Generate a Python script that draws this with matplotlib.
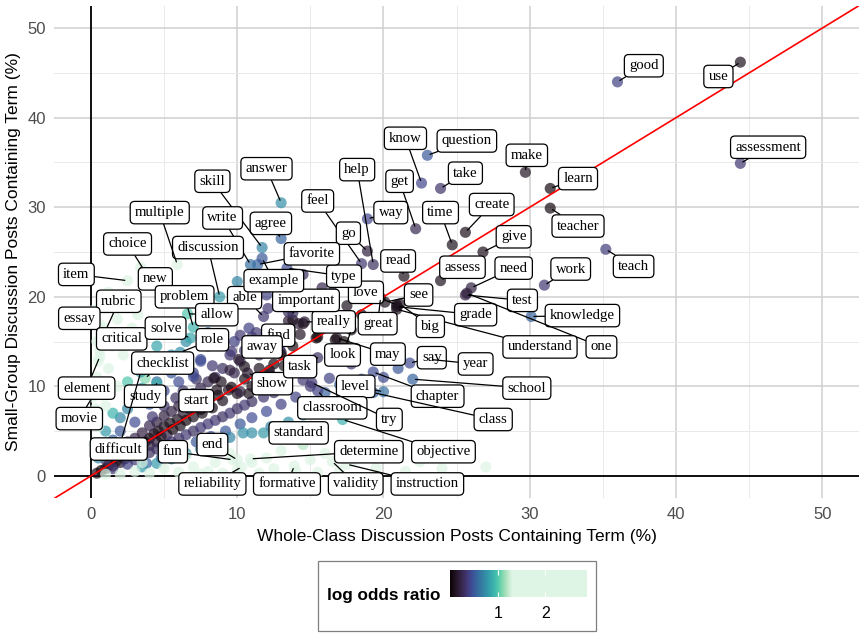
import numpy as np
import matplotlib
matplotlib.use("Agg")
import matplotlib.pyplot as plt
from matplotlib.colors import ListedColormap, Normalize
from matplotlib.patches import Rectangle
import seaborn as sns

plt.rcParams['font.family'] = ['Liberation Sans', 'DejaVu Sans']

# labelled terms: % of whole-class posts, % of small-group posts, |log odds ratio|
words = ['use', 'good', 'assessment', 'make', 'learn', 'teacher', 'teach', 'work',
         'knowledge', 'question', 'know', 'take', 'get', 'way', 'help', 'feel',
         'go', 'time', 'create', 'give', 'assess', 'read', 'love', 'see',
         'need', 'test', 'grade', 'one', 'understand', 'big', 'great', 'really',
         'important', 'able', 'find', 'away', 'type', 'favorite', 'example', 'agree',
         'answer', 'skill', 'write', 'discussion', 'multiple', 'choice', 'new', 'item',
         'rubric', 'essay', 'critical', 'problem', 'solve', 'allow', 'role', 'checklist',
         'element', 'movie', 'study', 'difficult', 'start', 'show', 'task', 'look',
         'may', 'say', 'year', 'school', 'chapter', 'class', 'level', 'classroom',
         'try', 'objective', 'standard', 'determine', 'fun', 'end', 'reliability', 'formative',
         'validity', 'instruction']
whole_pct = [44.4, 36.0, 44.4, 29.7, 31.4, 31.4, 35.2, 31.0,
             30.1, 23.0, 22.6, 23.9, 22.2, 18.9, 19.3, 18.5,
             18.9, 24.7, 25.6, 26.8, 23.9, 21.4, 20.9, 20.1,
             26.0, 25.6, 20.9, 25.7, 20.9, 21.1, 19.8, 14.6,
             13.8, 11.8, 13.6, 12.4, 13.4, 11.4, 11.7, 13.0,
             13.0, 11.7, 10.9, 8.8, 5.9, 4.2, 3.4, 2.5,
             0.8, 0.6, 0.4, 7.0, 6.8, 6.6, 6.1, 3.7,
             0.6, 0.1, 4.5, 3.4, 7.5, 10.7, 15.5, 17.8,
             16.8, 21.8, 23.2, 22.0, 19.3, 19.3, 20.0, 15.5,
             15.1, 17.2, 12.9, 10.9, 9.7, 10.0, 10.3, 13.9,
             16.5, 17.5]
small_pct = [46.2, 44.0, 34.9, 33.9, 32.1, 29.9, 25.3, 21.3,
             17.8, 35.8, 32.7, 32.1, 27.6, 28.7, 23.6, 23.7,
             25.1, 25.8, 27.2, 25.0, 21.8, 22.3, 19.1, 19.4,
             21.0, 20.2, 18.9, 20.4, 18.6, 19.2, 19.9, 17.2,
             18.2, 17.8, 16.3, 13.8, 23.2, 23.6, 24.3, 26.5,
             30.5, 25.5, 23.6, 20.0, 23.6, 21.5, 23.3, 21.8,
             15.5, 16.9, 15.0, 16.6, 15.4, 18.1, 13.8, 10.9,
             13.3, 8.8, 10.3, 11.6, 7.4, 11.5, 13.2, 16.3,
             15.4, 12.6, 13.0, 10.8, 11.6, 9.3, 9.4, 9.5,
             10.4, 6.3, 5.1, 1.9, 1.8, 1.8, 1.0, 1.1,
             1.6, 1.3]
log_odds = [0.10, 0.40, 0.35, 0.12, 0.05, 0.05, 0.38, 0.35,
            0.55, 0.50, 0.42, 0.32, 0.25, 0.42, 0.30, 0.35,
            0.20, 0.10, 0.08, 0.08, 0.10, 0.08, 0.10, 0.10,
            0.20, 0.20, 0.10, 0.20, 0.10, 0.10, 0.08, 0.15,
            0.30, 0.35, 0.20, 0.15, 0.45, 0.55, 0.50, 0.55,
            0.75, 0.70, 0.60, 0.80, 1.40, 1.40, 1.40, 1.50,
            1.60, 1.50, 1.50, 0.90, 0.85, 1.00, 0.75, 1.10,
            1.60, 1.60, 0.90, 0.80, 0.05, 0.15, 0.30, 0.10,
            0.10, 0.45, 0.30, 0.55, 0.45, 0.55, 0.60, 0.40,
            0.35, 0.90, 0.80, 1.60, 1.50, 1.50, 1.70, 1.70,
            1.60, 1.60]

# remaining (unlabelled) terms
other_whole = [0.4, 0.7, 1.0, 1.2, 1.5, 1.7, 2.0, 2.0, 2.3, 2.5, 2.7, 3.0, 3.0, 3.3, 3.5, 3.7,
               4.0, 4.0, 4.3, 4.5, 4.6, 4.8, 5.0, 5.2, 5.4, 5.6, 5.9, 6.1, 6.3, 6.5, 6.8, 7.0,
               7.3, 7.6, 8.0, 8.3, 8.7, 9.0, 9.6, 10.0, 10.5, 11.0, 11.5, 12.5, 13.0, 13.8, 14.3, 15.5,
               16.5, 13.5, 14.2,
               1.0, 1.5, 2.0, 2.5, 3.0, 3.5, 4.0, 4.5, 5.0, 5.5, 6.0, 6.5, 7.0, 7.5, 8.0, 4.2,
               5.0, 5.8, 6.3, 7.2, 8.5, 9.0, 9.8, 10.2, 8.3, 9.5, 10.5, 11.0, 9.8, 10.8, 12.0, 12.8,
               11.5, 12.2, 13.2, 12.6,
               1.5, 2.5, 3.0, 3.5, 4.0, 4.5, 5.0, 5.5, 6.0, 6.5, 7.0, 7.5, 8.0, 8.5, 9.0, 9.5,
               10.0, 10.5, 11.0, 11.8, 12.5, 6.2, 7.2, 8.2, 9.2, 10.2, 11.0, 12.0, 13.0, 14.0, 4.8, 5.8,
               3.8,
               10.4, 11.0, 11.8, 12.3, 9.5, 8.5, 7.5, 6.5, 5.5, 4.5, 3.5, 13.5, 14.5, 15.0, 16.0, 17.0,
               18.5, 16.5,
               0.5, 1.0, 1.5, 1.0, 2.0, 2.0, 2.5, 3.0, 3.0, 3.5, 4.0, 4.5, 5.0, 5.5, 6.0, 6.5,
               7.0, 5.0, 5.5, 4.5, 7.5, 8.0, 6.5, 1.5, 2.5, 3.5,
               0.2, 0.5, 0.3, 0.8, 0.4, 1.2, 0.6, 1.5, 0.9, 1.8, 0.2, 2.8, 2.2, 1.8, 2.6, 1.2,
               3.2, 0.5, 1.0, 2.0,
               2.0, 3.0, 4.0, 5.0, 6.0, 7.0, 8.0, 8.5, 9.0, 10.0, 11.0, 11.5, 12.0, 12.5, 13.0, 14.0,
               15.0, 15.5, 16.0, 17.0, 18.0, 18.5, 19.5, 20.5, 21.5, 22.5, 24.0, 25.5, 27.0, 6.5, 3.5, 9.5,
               14.5, 7.5, 1.0,
               11.3, 10.2, 9.6, 10.1, 10.5, 9.5, 7.5, 7.0, 8.4, 8.9, 9.4, 10.2, 10.8, 8.6, 12.9, 13.0,
               12.2, 14.5, 16.3, 15.0, 13.8, 14.5, 15.4, 16.7, 17.3, 13.5, 12.1,
               18.5, 20.0, 17.8, 21.0, 17.5, 18.5, 19.2, 16.5, 17.0,
               10.0, 11.0, 12.0, 13.5, 14.5, 15.8, 9.5, 8.0, 7.5]
other_small = [0.3, 0.6, 0.8, 1.2, 1.1, 1.6, 1.5, 2.2, 1.9, 2.6, 2.2, 3.0, 2.5, 3.5, 2.9, 3.8,
               4.2, 3.4, 4.7, 3.8, 5.0, 4.4, 5.5, 4.6, 5.9, 5.2, 6.3, 5.6, 7.0, 6.2, 7.4, 6.6,
               8.0, 7.0, 8.3, 7.6, 9.0, 8.4, 9.9, 9.2, 10.8, 10.0, 12.0, 12.5, 13.8, 14.5, 15.8, 15.5,
               16.9, 17.3, 17.0,
               1.8, 2.5, 3.2, 3.8, 4.2, 4.8, 5.6, 6.0, 6.7, 7.2, 7.8, 8.5, 9.2, 9.8, 10.5, 6.6,
               7.8, 8.7, 9.5, 10.8, 11.0, 12.0, 11.5, 12.8, 12.3, 13.5, 14.0, 15.5, 15.0, 16.5, 16.0, 14.8,
               13.5, 11.4, 12.3, 10.4,
               0.8, 1.3, 1.8, 2.2, 2.6, 3.0, 3.4, 3.8, 4.2, 4.6, 5.0, 5.4, 5.8, 6.2, 6.6, 7.0,
               7.5, 7.9, 8.3, 8.8, 9.3, 3.2, 3.8, 4.4, 5.0, 5.8, 6.5, 7.2, 8.0, 8.8, 2.0, 2.6,
               1.4,
               4.8, 4.8, 4.8, 5.5, 4.3, 3.6, 3.0, 2.5, 1.9, 1.4, 1.0, 6.0, 6.8, 8.3, 9.3, 10.2,
               10.8, 7.8,
               2.0, 3.0, 4.0, 5.0, 5.0, 6.5, 7.5, 6.0, 8.5, 9.8, 8.0, 10.5, 9.5, 11.5, 10.5, 12.5,
               11.5, 12.5, 13.5, 14.5, 13.0, 14.5, 15.0, 7.0, 10.5, 12.5,
               3.5, 5.5, 7.5, 9.0, 11.0, 12.0, 14.0, 14.5, 16.5, 17.5, 18.5, 16.5, 13.5, 10.0, 19.5, 20.5,
               18.0, 12.8, 7.8, 3.5,
               0.2, 0.5, 0.3, 0.8, 0.4, 1.0, 0.5, 1.5, 0.3, 0.7, 1.5, 0.3, 2.0, 0.8, 2.8, 0.5,
               1.8, 0.4, 2.5, 0.6, 1.8, 3.2, 0.9, 2.2, 0.5, 1.6, 0.8, 2.0, 1.0, 2.2, 1.5, 2.5,
               3.5, 0.2, 0.2,
               16.0, 15.7, 13.9, 13.0, 12.2, 11.8, 12.8, 11.1, 10.9, 10.5, 9.6, 9.4, 9.2, 9.6, 14.1, 13.5,
               11.8, 10.7, 10.9, 10.0, 17.4, 17.0, 15.4, 15.2, 15.0, 18.3, 18.7,
               9.0, 11.0, 12.5, 12.0, 19.0, 18.0, 20.3, 20.5, 17.5,
               21.7, 22.2, 20.2, 21.0, 22.5, 21.0, 18.0, 16.0, 17.5]
other_lor = [0.10, 0.05, 0.10, 0.05, 0.15, 0.05, 0.15, 0.05, 0.10, 0.05, 0.15, 0.02, 0.15, 0.08, 0.20, 0.05,
             0.05, 0.20, 0.10, 0.20, 0.10, 0.05, 0.10, 0.20, 0.10, 0.05, 0.10, 0.10, 0.15, 0.05, 0.10, 0.10,
             0.15, 0.10, 0.05, 0.10, 0.08, 0.10, 0.05, 0.10, 0.08, 0.10, 0.10, 0.05, 0.10, 0.08, 0.12, 0.05,
             0.05, 0.15, 0.20,
             0.30, 0.30, 0.30, 0.25, 0.25, 0.20, 0.25, 0.20, 0.20, 0.20, 0.20, 0.20, 0.25, 0.25, 0.25, 0.35,
             0.30, 0.30, 0.30, 0.30, 0.30, 0.30, 0.25, 0.30, 0.35, 0.35, 0.35, 0.35, 0.40, 0.40, 0.30, 0.20,
             0.25, 0.15, 0.10, 0.20,
             0.35, 0.40, 0.35, 0.35, 0.30, 0.30, 0.35, 0.35, 0.30, 0.35, 0.30, 0.35, 0.35, 0.35, 0.30, 0.35,
             0.30, 0.35, 0.30, 0.35, 0.30, 0.45, 0.50, 0.50, 0.50, 0.50, 0.45, 0.45, 0.40, 0.40, 0.50, 0.55,
             0.55,
             0.75, 0.75, 0.80, 0.70, 0.70, 0.70, 0.70, 0.75, 0.75, 0.80, 0.80, 0.75, 0.70, 0.60, 0.55, 0.55,
             0.50, 0.65,
             0.70, 0.60, 0.55, 0.80, 0.50, 0.70, 0.70, 0.45, 0.70, 0.80, 0.50, 0.55, 0.45, 0.50, 0.45, 0.50,
             0.40, 0.65, 0.70, 0.85, 0.45, 0.50, 0.75, 0.90, 1.00, 1.00,
             1.50, 1.60, 1.80, 1.70, 2.00, 1.60, 2.00, 1.50, 2.10, 1.50, 2.30, 1.40, 1.40, 1.40, 1.40, 2.00,
             1.30, 2.20, 1.40, 1.30,
             1.60, 1.50, 1.80, 1.50, 1.90, 1.50, 2.00, 1.40, 2.20, 2.00, 1.60, 2.40, 1.40, 2.00, 1.30, 2.30,
             1.60, 2.40, 1.40, 2.30, 1.70, 1.30, 2.20, 1.60, 2.50, 1.90, 2.40, 1.80, 2.30, 1.30, 1.30, 1.30,
             1.20, 2.10, 1.30,
             0.35, 0.35, 0.35, 0.15, 0.10, 0.20, 0.45, 0.45, 0.10, 0.10, 0.10, 0.20, 0.10, 0.10, 0.35, 0.10,
             0.10, 0.35, 0.40, 0.35, 0.10, 0.10, 0.05, 0.05, 0.05, 0.30, 0.35,
             0.50, 0.45, 0.35, 0.50, 0.10, 0.10, 0.05, 0.20, 0.08,
             0.70, 0.55, 0.40, 0.35, 0.30, 0.25, 0.60, 0.55, 0.80]

# where each repelled label box sits (data units)
label_at = {
    'use': (42.9, 44.6), 'good': (37.8, 45.8), 'assessment': (46.3, 36.7), 'make': (29.8, 35.8),
    'learn': (33.3, 33.2), 'teacher': (33.3, 27.9), 'teach': (37.1, 23.4), 'work': (32.8, 23.1),
    'knowledge': (33.6, 17.9), 'question': (25.7, 37.4), 'know': (21.5, 37.7), 'take': (25.6, 33.8),
    'get': (21.1, 32.9), 'way': (20.5, 29.4), 'help': (18.2, 34.2), 'feel': (15.5, 30.7),
    'go': (17.6, 27.1), 'time': (23.9, 29.4), 'create': (27.4, 30.3), 'give': (28.9, 26.7),
    'assess': (25.4, 23.3), 'read': (21.0, 24.0), 'love': (18.8, 20.5), 'see': (22.4, 20.2),
    'need': (28.9, 23.2), 'test': (29.5, 19.6), 'grade': (26.3, 18.0), 'one': (34.9, 14.4),
    'understand': (30.7, 14.4), 'big': (23.2, 16.7), 'great': (19.6, 17.0), 'really': (16.6, 17.2),
    'important': (14.7, 19.6), 'able': (10.5, 19.9), 'find': (12.8, 15.7), 'away': (11.7, 14.4),
    'type': (17.3, 22.3), 'favorite': (15.1, 24.8), 'example': (12.5, 21.8), 'agree': (12.3, 28.2),
    'answer': (12.0, 34.3), 'skill': (8.3, 32.9), 'write': (9.0, 28.8), 'discussion': (8.0, 25.5),
    'multiple': (4.7, 29.4), 'choice': (2.5, 25.9), 'new': (4.4, 22.0), 'item': (-1.0, 22.5),
    'rubric': (1.9, 19.5), 'essay': (-0.8, 17.6), 'critical': (2.1, 15.3), 'problem': (6.4, 20.0),
    'solve': (5.1, 16.5), 'allow': (8.6, 18.0), 'role': (8.3, 15.2), 'checklist': (4.9, 12.6),
    'element': (-0.3, 9.8), 'movie': (-0.8, 6.4), 'study': (3.7, 8.9), 'difficult': (1.9, 3.0),
    'start': (7.2, 8.4), 'show': (12.4, 10.3), 'task': (14.3, 12.2), 'look': (17.2, 13.5),
    'may': (20.3, 13.6), 'say': (23.3, 13.2), 'year': (26.3, 12.5), 'school': (29.8, 9.8),
    'chapter': (23.7, 8.9), 'class': (27.5, 6.3), 'level': (18.1, 10.0), 'classroom': (16.5, 7.6),
    'try': (20.4, 6.3), 'objective': (24.1, 2.7), 'standard': (14.2, 4.8), 'determine': (19.0, 2.7),
    'fun': (5.6, 2.7), 'end': (8.3, 3.5), 'reliability': (8.3, -0.9), 'formative': (13.4, -0.9),
    'validity': (18.1, -0.9), 'instruction': (23.0, -0.9),
}

# mako stretched over 0..1.3, flat pale tint above that
mako = sns.color_palette("mako", as_cmap=True)
lor_top = 2.87
steps = np.linspace(0, lor_top, 256)
cmap = ListedColormap(mako(np.clip(steps / 1.3, 0, 1)))
norm = Normalize(0, lor_top)

fig = plt.figure(figsize=(8.64, 6.38), dpi=100)
ax = fig.add_axes([0.063, 0.219, 0.931, 0.772])
ax.set_xlim(-2.5, 52.5)
ax.set_ylim(-2.5, 52.5)
ax.set_xticks(range(0, 51, 10))
ax.set_yticks(range(0, 51, 10))
ax.set_xticks(range(5, 51, 10), minor=True)
ax.set_yticks(range(5, 51, 10), minor=True)
ax.grid(which='major', color='#cfcfcf', lw=1.1)
ax.grid(which='minor', color='#e9e9e9', lw=0.7)
ax.set_axisbelow(True)
for sp in ax.spines.values():
    sp.set_visible(False)
ax.tick_params(which='both', length=0, labelsize=12, labelcolor='#4d4d4d', pad=6)

ax.axhline(0, color='black', lw=1.3, zorder=1.5)
ax.axvline(0, color='black', lw=1.3, zorder=1.5)

ax.scatter(other_whole, other_small, c=other_lor, cmap=cmap, norm=norm,
           s=64, alpha=0.7, linewidths=0, zorder=2)
ax.scatter(whole_pct, small_pct, c=log_odds, cmap=cmap, norm=norm,
           s=64, alpha=0.7, linewidths=0, zorder=2)
ax.plot([-2.5, 52.5], [-2.5, 52.5], color='red', lw=1.2, zorder=3)

for w, x, y in zip(words, whole_pct, small_pct):
    lx, ly = label_at[w]
    ax.annotate(w, xy=(x, y), xytext=(lx, ly), ha='center', va='center',
                fontsize=10.6, family='Liberation Serif', zorder=5,
                bbox=dict(boxstyle='round,pad=0.32,rounding_size=0.3', fc='white', ec='black', lw=0.9),
                arrowprops=dict(arrowstyle='-', color='black', lw=0.9, shrinkA=0, shrinkB=2))

ax.set_xlabel('Whole-Class Discussion Posts Containing Term (%)', fontsize=12.5, labelpad=5)
ax.set_ylabel('Small-Group Discussion Posts Containing Term (%)', fontsize=12.5, labelpad=5)

# colour legend
fig.add_artist(Rectangle((0.368, 0.011), 0.322, 0.110, transform=fig.transFigure,
                         fc='white', ec='#7f7f7f', lw=0.9, zorder=-1))
fig.text(0.444, 0.067, 'log odds ratio', weight='bold', fontsize=12.3, ha='center', va='center')
cax = fig.add_axes([0.521, 0.064, 0.158, 0.043])
cax.set_zorder(2)
cax.imshow(np.linspace(0, lor_top, 256)[None, :], cmap=cmap, norm=norm, aspect='auto',
           extent=[0, lor_top, 0, 1])
cax.vlines([1, 2], 0, 0.2, color='white', lw=0.8)
cax.vlines([1, 2], 0.8, 1, color='white', lw=0.8)
cax.set_xlim(0, lor_top)
cax.set_xticks([1, 2])
cax.set_yticks([])
for sp in cax.spines.values():
    sp.set_visible(False)
cax.tick_params(length=0, labelsize=11.5, pad=6)

fig.savefig('out.png', dpi=100)
